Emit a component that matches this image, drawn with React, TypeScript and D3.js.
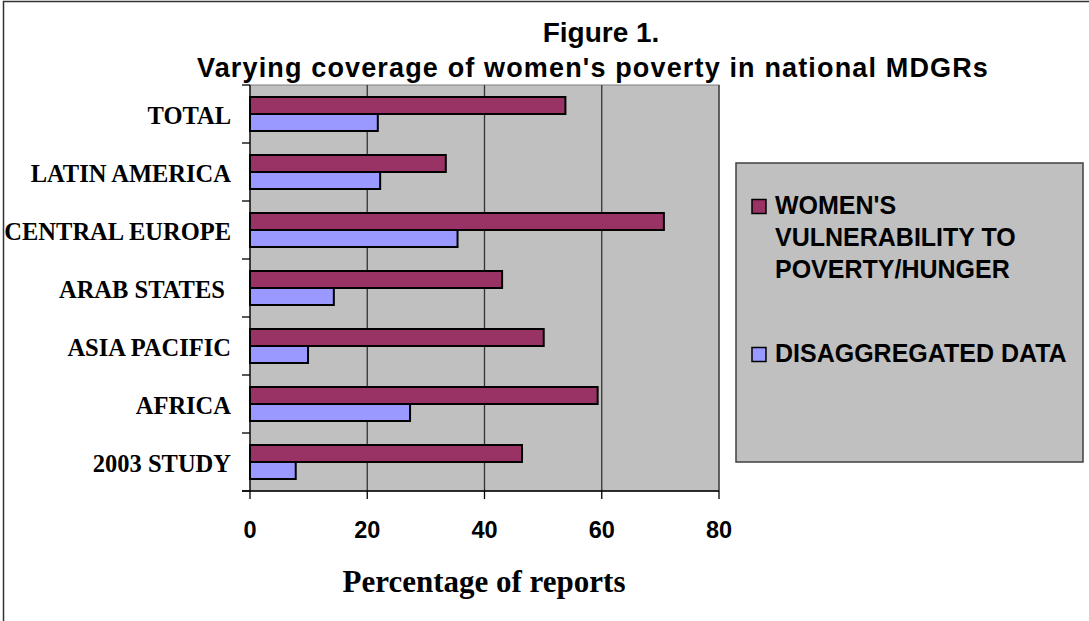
import React from "react";
import * as d3 from "d3";

const categories = ["TOTAL", "LATIN AMERICA", "CENTRAL EUROPE", "ARAB STATES ", "ASIA PACIFIC", "AFRICA", "2003 STUDY"];
const seriesNames = ["WOMEN'S VULNERABILITY TO POVERTY/HUNGER", "DISAGGREGATED DATA"];
const vulnerability = [53.8, 33.4, 70.6, 43.0, 50.1, 59.3, 46.4];
const disaggregated = [21.8, 22.2, 35.4, 14.3, 9.9, 27.3, 7.8];
const xTicks = [0, 20, 40, 60, 80];
const legendLines = [["WOMEN'S", "VULNERABILITY TO", "POVERTY/HUNGER"], ["DISAGGREGATED DATA"]];
const colors = ["#993366", "#9999FF"];

const W = 1089, H = 621;
const plot = { left: 250, right: 719, top: 85, bottom: 491 };
const SANS = "'Liberation Sans', Arial, Helvetica, sans-serif";
const SERIF = "'Liberation Serif', 'Times New Roman', Times, serif";

export default function App() {
  const x = d3.scaleLinear().domain([0, 80]).range([plot.left, plot.right]);
  const pi = 0.4138;
  const y = d3.scaleBand<string>().domain(categories).range([plot.top, plot.bottom]).paddingInner(pi).paddingOuter(pi / 2);
  const ys = d3.scaleBand<string>().domain(seriesNames).range([0, y.bandwidth()]);
  const series = [vulnerability, disaggregated];
  const step = y.step();
  const boundaries = d3.range(categories.length + 1).map((i) => plot.top + i * step);

  return (
    <svg width={W} height={H} style={{ position: "absolute", left: 0, top: 0, background: "#fff" }}>
      <rect x={3.5} y={1.5} width={W + 20} height={H + 20} fill="#fff" stroke="#333" strokeWidth={1.5} />
      {/* title */}
      <text x={601} y={41.7} textAnchor="middle" fontFamily={SANS} fontWeight="bold" fontSize={28}>Figure 1.</text>
      <text x={593} y={76.7} textAnchor="middle" fontFamily={SANS} fontWeight="bold" fontSize={27} letterSpacing={1.15}>Varying coverage of women's poverty in national MDGRs</text>
      {/* plot area */}
      <rect x={plot.left} y={plot.top} width={plot.right - plot.left} height={plot.bottom - plot.top} fill="#C0C0C0" stroke="#808080" strokeWidth={1} />
      {xTicks.slice(1).map((t) => (
        <line key={"g" + t} x1={x(t)} x2={x(t)} y1={plot.top} y2={plot.bottom} stroke="#333" strokeWidth={1.3} />
      ))}
      {/* bars */}
      {categories.map((c, i) => (
        <g key={c}>
          {series.map((s, j) => (
            <rect key={j} x={x(0)} y={(y(c) as number) + (ys(seriesNames[j]) as number)} width={x(s[i]) - x(0)} height={ys.bandwidth()} fill={colors[j]} stroke="#000" strokeWidth={2} />
          ))}
        </g>
      ))}
      {/* axes */}
      <line x1={plot.left} x2={plot.left} y1={plot.top} y2={plot.bottom} stroke="#000" strokeWidth={1.3} />
      {boundaries.map((b, i) => (
        <line key={"yt" + i} x1={plot.left - 8} x2={plot.left} y1={b} y2={b} stroke="#000" strokeWidth={1.3} />
      ))}
      <line x1={plot.left - 8} x2={plot.right} y1={plot.bottom} y2={plot.bottom} stroke="#000" strokeWidth={1.3} />
      {xTicks.map((t) => (
        <g key={"xt" + t}>
          <line x1={x(t)} x2={x(t)} y1={plot.bottom} y2={plot.bottom + 8} stroke="#000" strokeWidth={1.3} />
          <text x={x(t)} y={537.5} textAnchor="middle" fontFamily={SANS} fontWeight="bold" fontSize={23.5}>{t}</text>
        </g>
      ))}
      {categories.map((c) => (
        <text key={"l" + c} x={231} y={(y(c) as number) + y.bandwidth() / 2 + 10} textAnchor="end" fontFamily={SERIF} fontWeight="bold" fontSize={24.5} style={{ whiteSpace: "pre" }}>{c}</text>
      ))}
      <text x={484} y={592} textAnchor="middle" fontFamily={SERIF} fontWeight="bold" fontSize={31}>Percentage of reports</text>
      {/* legend */}
      <rect x={736} y={163} width={347} height={299} fill="#C0C0C0" stroke="#404040" strokeWidth={1.5} />
      {legendLines.map((lines, j) => {
        const base = j === 0 ? 214 : 362;
        return (
          <g key={"lg" + j}>
            <rect x={752} y={base - 14.5} width={14} height={14} fill={colors[j]} stroke="#000" strokeWidth={1.5} />
            {lines.map((ln, k) => (
              <text key={k} x={775} y={base + k * 32.2} fontFamily={SANS} fontWeight="bold" fontSize={25}>{ln}</text>
            ))}
          </g>
        );
      })}
    </svg>
  );
}
